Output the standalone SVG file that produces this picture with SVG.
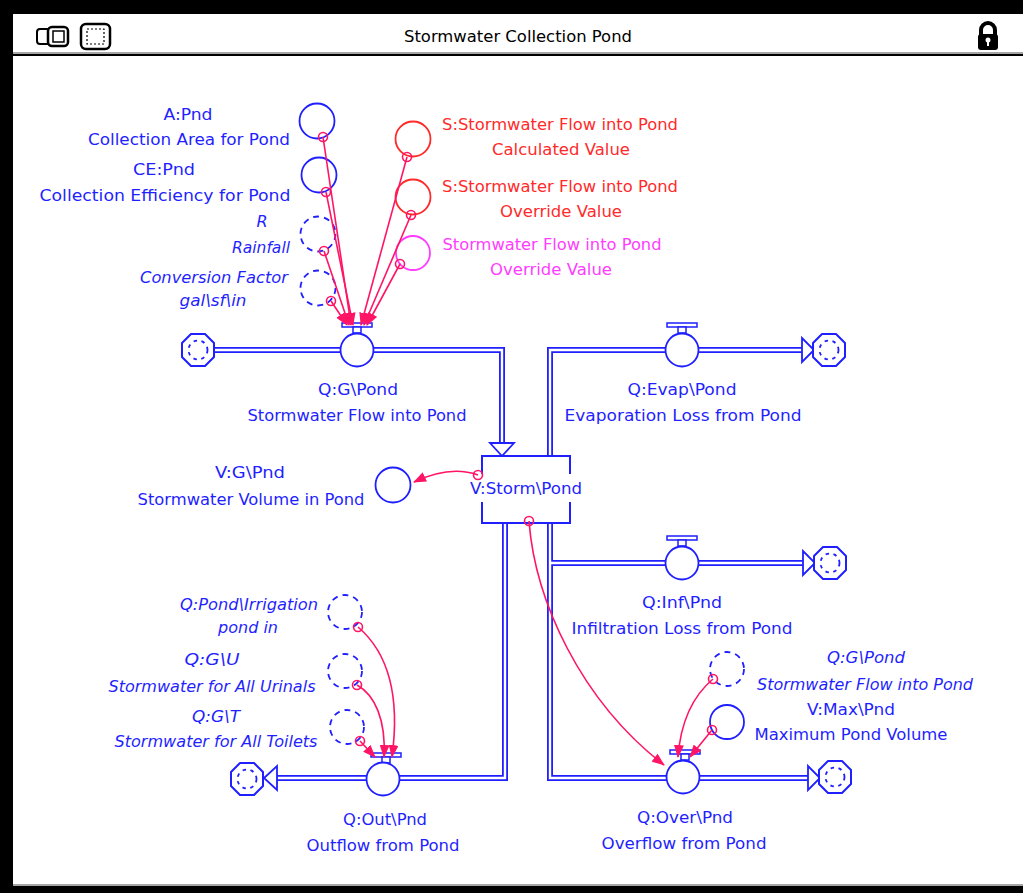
<svg xmlns="http://www.w3.org/2000/svg" width="1023" height="893" viewBox="0 0 1023 893">
<defs>
<style>
.t{font-family:"DejaVu Sans","Liberation Sans",sans-serif;font-size:16px;text-anchor:middle;fill:#1f1fff}
.i{font-style:italic}
.red{fill:#ff2a2a}
.mag{fill:#ff3cff}
.aux{fill:#fff;stroke:#1f1fff;stroke-width:1.8}
.ghost{fill:#fff;stroke:#1f1fff;stroke-width:1.8;stroke-dasharray:6 5}
.pipeO{fill:none;stroke:#1f1fff;stroke-width:6;stroke-linejoin:miter}
.pipeI{fill:none;stroke:#fff;stroke-width:2.4;stroke-linejoin:miter}
.head{fill:#fff;stroke:#1f1fff;stroke-width:1.8}
.link{fill:none;stroke:#ff1466;stroke-width:1.6;marker-end:url(#ah)}
.dot{fill:none;stroke:#ff1466;stroke-width:1.6}
.stock{fill:#fff;stroke:#1f1fff;stroke-width:2}
</style>
<marker id="ah" markerWidth="13" markerHeight="10" refX="12" refY="5" orient="auto" markerUnits="userSpaceOnUse">
<path d="M0,0 L13,5 L0,10 Z" fill="#ff1466"/>
</marker>
<g id="cloud">
<path d="M-7,-16 H7 L16,-7 V7 L7,16 H-7 L-16,7 V-7 Z" fill="#fff" stroke="#1f1fff" stroke-width="2" stroke-linejoin="round"/>
<circle r="9.5" fill="none" stroke="#1f1fff" stroke-width="1.8" stroke-dasharray="3.5 4.5"/>
</g>
<g id="valvebar">
<rect x="-15" y="-27" width="30" height="4" fill="#fff" stroke="#1f1fff" stroke-width="1.5"/>
<rect x="-4" y="-23" width="8" height="6" fill="#fff" stroke="#1f1fff" stroke-width="1.5"/>
</g>
</defs>

<!-- window frame -->
<rect x="0" y="0" width="1023" height="893" fill="#000"/>
<rect x="13" y="14" width="1010" height="872" fill="#fff"/>
<line x1="13" y1="885" x2="1023" y2="885" stroke="#888" stroke-width="1.5"/>
<g id="titlebar">
<line x1="13" y1="53" x2="1023" y2="53" stroke="#888" stroke-width="1.5"/>
<line x1="13" y1="55" x2="1023" y2="55" stroke="#000" stroke-width="2"/>
<rect x="37" y="29" width="14" height="15" rx="3" fill="#fff" stroke="#000" stroke-width="2"/>
<rect x="48" y="27" width="20" height="19" rx="4" fill="#fff" stroke="#000" stroke-width="2.5"/>
<rect x="53" y="31" width="11" height="11" fill="none" stroke="#000" stroke-width="1.5"/>
<rect x="81" y="24" width="29" height="25" rx="5" fill="#fff" stroke="#000" stroke-width="2.5"/>
<rect x="87" y="29" width="17" height="15" fill="none" stroke="#000" stroke-width="1.2" stroke-dasharray="2 2"/>
<text x="518" y="42" font-family="DejaVu Sans, sans-serif" font-size="15" text-anchor="middle" fill="#000" textLength="228" lengthAdjust="spacingAndGlyphs">Stormwater Collection Pond</text>
<path d="M981,35 v-5 a7,7 0 0 1 14,0 v5" fill="none" stroke="#000" stroke-width="4"/>
<rect x="978" y="34" width="20" height="16" rx="3" fill="#000"/>
<circle cx="988" cy="40" r="2.5" fill="#fff"/>
<rect x="987" y="41" width="2" height="5" fill="#fff"/>
</g>

<!-- flow pipes -->
<g id="pipes">
<path class="pipeO" d="M212,350 H502 V444"/>
<path class="pipeO" d="M550,456 V350 H803"/>
<path class="pipeO" d="M550,523 V778 H809"/>
<path class="pipeO" d="M550,563 H804"/>
<path class="pipeO" d="M505,523 V778 H276"/>
<path class="pipeI" d="M212,350 H502 V444"/>
<path class="pipeI" d="M550,456 V350 H803"/>
<path class="pipeI" d="M550,523 V778 H809"/>
<path class="pipeI" d="M550,563 H804"/>
<path class="pipeI" d="M505,523 V778 H276"/>
<path class="head" d="M490,443 H514 L502,456 Z"/>
<path class="head" d="M802,338 V362 L814,350 Z"/>
<path class="head" d="M803,551 V575 L815,563 Z"/>
<path class="head" d="M808,766 V790 L820,778 Z"/>
<path class="head" d="M277,766 V790 L264,778 Z"/>
</g>

<!-- stock -->
<g id="stock-storm">
<rect class="stock" x="482" y="456" width="88" height="67"/>
<rect x="468" y="474" width="118" height="28" fill="#fff"/>
<text class="t" x="526" y="494" textLength="112" lengthAdjust="spacingAndGlyphs">V:Storm\Pond</text>
</g>

<!-- clouds -->
<g id="cloud-in"><use href="#cloud" x="198" y="350"/></g>
<g id="cloud-evap"><use href="#cloud" x="829" y="350"/></g>
<g id="cloud-inf"><use href="#cloud" x="830" y="563"/></g>
<g id="cloud-over"><use href="#cloud" x="835" y="777"/></g>
<g id="cloud-out"><use href="#cloud" x="247" y="779"/></g>

<!-- flows -->
<g id="flow-in">
<use href="#valvebar" x="357" y="350"/>
<circle class="aux" cx="357" cy="350" r="16.5"/>
<text class="t" x="358" y="395" textLength="80" lengthAdjust="spacingAndGlyphs">Q:G\Pond</text>
<text class="t" x="357" y="421" textLength="219" lengthAdjust="spacingAndGlyphs">Stormwater Flow into Pond</text>
</g>
<g id="flow-evap">
<use href="#valvebar" x="682" y="350"/>
<circle class="aux" cx="682" cy="350" r="16.5"/>
<text class="t" x="682" y="395" textLength="109" lengthAdjust="spacingAndGlyphs">Q:Evap\Pond</text>
<text class="t" x="683" y="421" textLength="237" lengthAdjust="spacingAndGlyphs">Evaporation Loss from Pond</text>
</g>
<g id="flow-inf">
<use href="#valvebar" x="682" y="563"/>
<circle class="aux" cx="682" cy="563" r="16.5"/>
<text class="t" x="682" y="608" textLength="80" lengthAdjust="spacingAndGlyphs">Q:Inf\Pnd</text>
<text class="t" x="682" y="634" textLength="221" lengthAdjust="spacingAndGlyphs">Infiltration Loss from Pond</text>
</g>
<g id="flow-out">
<use href="#valvebar" x="386" y="780"/>
<circle class="aux" cx="383" cy="779" r="16.5"/>
<text class="t" x="385" y="825" textLength="84" lengthAdjust="spacingAndGlyphs">Q:Out\Pnd</text>
<text class="t" x="383" y="851" textLength="153" lengthAdjust="spacingAndGlyphs">Outflow from Pond</text>
</g>
<g id="flow-over">
<use href="#valvebar" x="685" y="777"/>
<circle class="aux" cx="683" cy="777" r="16.5"/>
<text class="t" x="685" y="823" textLength="96" lengthAdjust="spacingAndGlyphs">Q:Over\Pnd</text>
<text class="t" x="684" y="849" textLength="165" lengthAdjust="spacingAndGlyphs">Overflow from Pond</text>
</g>

<!-- auxiliaries -->
<g id="aux-A">
<circle class="aux" cx="317" cy="121" r="17.5"/>
<text class="t" x="188" y="120" textLength="49" lengthAdjust="spacingAndGlyphs">A:Pnd</text>
<text class="t" x="189" y="145" textLength="202" lengthAdjust="spacingAndGlyphs">Collection Area for Pond</text>
</g>
<g id="aux-CE">
<circle class="aux" cx="319" cy="175" r="17.5"/>
<text class="t" x="164" y="175" textLength="62" lengthAdjust="spacingAndGlyphs">CE:Pnd</text>
<text class="t" x="165" y="201" textLength="251" lengthAdjust="spacingAndGlyphs">Collection Efficiency for Pond</text>
</g>
<g id="aux-R">
<circle class="ghost" cx="318" cy="234" r="17.5"/>
<text class="t i" x="262" y="227">R</text>
<text class="t i" x="261" y="253" textLength="58" lengthAdjust="spacingAndGlyphs">Rainfall</text>
</g>
<g id="aux-conv">
<circle class="ghost" cx="318" cy="288" r="17.5"/>
<text class="t i" x="214" y="283" textLength="148" lengthAdjust="spacingAndGlyphs">Conversion Factor</text>
<text class="t i" x="213" y="306" textLength="67" lengthAdjust="spacingAndGlyphs">gal\sf\in</text>
</g>
<g id="aux-S-calc">
<circle cx="413" cy="139" r="17.5" fill="#fff" stroke="#ff2a2a" stroke-width="1.8"/>
<text class="t red" x="560" y="130" textLength="236" lengthAdjust="spacingAndGlyphs">S:Stormwater Flow into Pond</text>
<text class="t red" x="561" y="155" textLength="138" lengthAdjust="spacingAndGlyphs">Calculated Value</text>
</g>
<g id="aux-S-over">
<circle cx="413" cy="197" r="17.5" fill="#fff" stroke="#ff2a2a" stroke-width="1.8"/>
<text class="t red" x="560" y="192" textLength="236" lengthAdjust="spacingAndGlyphs">S:Stormwater Flow into Pond</text>
<text class="t red" x="561" y="217" textLength="122" lengthAdjust="spacingAndGlyphs">Override Value</text>
</g>
<g id="aux-override">
<circle cx="413" cy="253" r="17" fill="#fff" stroke="#ff3cff" stroke-width="1.8"/>
<text class="t mag" x="552" y="250" textLength="219" lengthAdjust="spacingAndGlyphs">Stormwater Flow into Pond</text>
<text class="t mag" x="551" y="275" textLength="122" lengthAdjust="spacingAndGlyphs">Override Value</text>
</g>
<g id="aux-VG">
<circle class="aux" cx="393" cy="485" r="17.5"/>
<text class="t" x="250" y="478" textLength="70" lengthAdjust="spacingAndGlyphs">V:G\Pnd</text>
<text class="t" x="251" y="505" textLength="227" lengthAdjust="spacingAndGlyphs">Stormwater Volume in Pond</text>
</g>
<g id="aux-irr">
<circle class="ghost" cx="345" cy="612" r="17"/>
<text class="t i" x="249" y="610" textLength="138" lengthAdjust="spacingAndGlyphs">Q:Pond\Irrigation</text>
<text class="t i" x="248" y="633" textLength="60" lengthAdjust="spacingAndGlyphs">pond in</text>
</g>
<g id="aux-U">
<circle class="ghost" cx="345" cy="671" r="17"/>
<text class="t i" x="212" y="665" textLength="55" lengthAdjust="spacingAndGlyphs">Q:G\U</text>
<text class="t i" x="212" y="692" textLength="207" lengthAdjust="spacingAndGlyphs">Stormwater for All Urinals</text>
</g>
<g id="aux-T">
<circle class="ghost" cx="347" cy="727" r="17"/>
<text class="t i" x="216" y="722" textLength="48" lengthAdjust="spacingAndGlyphs">Q:G\T</text>
<text class="t i" x="216" y="747" textLength="203" lengthAdjust="spacingAndGlyphs">Stormwater for All Toilets</text>
</g>
<g id="aux-QG">
<circle class="ghost" cx="727" cy="669" r="17"/>
<text class="t i" x="866" y="663" textLength="78" lengthAdjust="spacingAndGlyphs">Q:G\Pond</text>
<text class="t i" x="865" y="690" textLength="216" lengthAdjust="spacingAndGlyphs">Stormwater Flow into Pond</text>
</g>
<g id="aux-Vmax">
<circle class="aux" cx="727" cy="722" r="17"/>
<text class="t" x="851" y="715" textLength="88" lengthAdjust="spacingAndGlyphs">V:Max\Pnd</text>
<text class="t" x="851" y="740" textLength="193" lengthAdjust="spacingAndGlyphs">Maximum Pond Volume</text>
</g>

<!-- information links -->
<g id="links">
<path class="link" d="M323,137 L351,325"/>
<path class="link" d="M326,192 L353,325"/>
<path class="link" d="M324,251 L349,325"/>
<path class="link" d="M331,301 L347,325"/>
<path class="link" d="M407,157 L361,325"/>
<path class="link" d="M411,215 L364,325"/>
<path class="link" d="M400,264 L367,325"/>
<path class="link" d="M478,475 Q450,465 414,482"/>
<path class="link" d="M529,521 C535,600 580,700 664,765"/>
<path class="link" d="M358,627 C385,650 401,690 392,757"/>
<path class="link" d="M357,685 C375,695 386,720 384,757"/>
<path class="link" d="M360,741 L375,757"/>
<path class="link" d="M713,679 Q682,705 678,757"/>
<path class="link" d="M712,730 L690,757"/>
<circle class="dot" cx="323" cy="137" r="4.5"/>
<circle class="dot" cx="326" cy="192" r="4.5"/>
<circle class="dot" cx="324" cy="251" r="4.5"/>
<circle class="dot" cx="331" cy="301" r="4.5"/>
<circle class="dot" cx="407" cy="157" r="4.5"/>
<circle class="dot" cx="411" cy="215" r="4.5"/>
<circle class="dot" cx="400" cy="264" r="4.5"/>
<circle class="dot" cx="478" cy="475" r="4.5"/>
<circle class="dot" cx="529" cy="521" r="4.5"/>
<circle class="dot" cx="358" cy="627" r="4.5"/>
<circle class="dot" cx="357" cy="685" r="4.5"/>
<circle class="dot" cx="360" cy="741" r="4.5"/>
<circle class="dot" cx="713" cy="679" r="4.5"/>
<circle class="dot" cx="712" cy="730" r="4.5"/>
</g>
</svg>
